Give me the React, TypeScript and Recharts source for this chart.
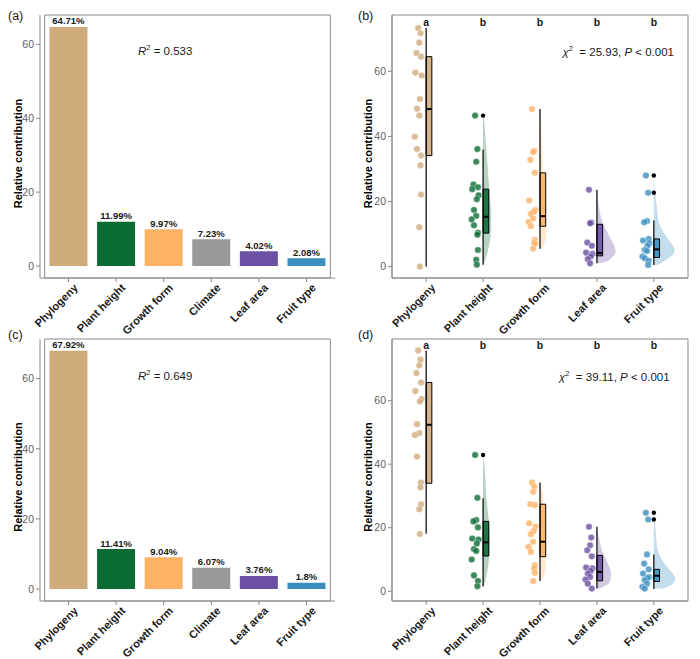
import React from "react";
import {
  Area,
  Bar,
  BarChart,
  Cell,
  ComposedChart,
  LabelList,
  Line,
  ReferenceArea,
  Scatter,
  XAxis,
  YAxis,
} from "recharts";

// ---- bar panels (a) and (c)
const BAR_CATEGORIES = ["Phylogeny", "Plant height", "Growth form", "Climate", "Leaf area", "Fruit type"];
const CONTRIB_A = [64.71, 11.99, 9.97, 7.23, 4.02, 2.08];
const CONTRIB_C = [67.92, 11.41, 9.04, 6.07, 3.76, 1.8];
const BAR_COLORS = ["#CFAB7B", "#0B6B35", "#FDB265", "#999999", "#6A51A3", "#3A8FC0"];
const R2_A = "0.533";
const R2_C = "0.649";

// ---- raincloud panels (b) and (d)
const RAIN_CATEGORIES = ["Phylogeny", "Plant height", "Growth form", "Leaf area", "Fruit type"];
const RAIN_COLORS = ["#CFAB7B", "#0B6B35", "#FDB265", "#6A51A3", "#3A8FC0"];
const SIG_LETTERS = ["a", "b", "b", "b", "b"];
const CHI_B = "25.93";
const CHI_D = "39.11";
const P_TEXT = "0.001";

const PHYLOGENY_B = [73.3, 71.7, 68.8, 65.6, 64.5, 59.6, 58.7, 51.5, 48.5, 46.4, 39.9, 36.1, 34.1, 31.1, 22.1, 12.1, 0.0];
const PLANT_HEIGHT_B = [46.4, 36.1, 32.2, 25.2, 24.4, 23.8, 21.9, 20.7, 17.4, 15.6, 14.5, 12.7, 10.4, 9.8, 5.1, 2.1, 0.6];
const GROWTH_FORM_B = [48.4, 35.6, 35.2, 32.8, 28.8, 20.3, 17.4, 16.8, 16.2, 14.8, 13.7, 12.5, 8.2, 7.4, 7.0, 5.5];
const LEAF_AREA_B = [23.6, 13.5, 13.3, 7.4, 6.4, 4.3, 3.9, 3.1, 2.3, 1.0];
const FRUIT_TYPE_B = [28.0, 22.7, 14.0, 13.6, 8.5, 8.0, 7.2, 6.4, 5.1, 4.8, 3.1, 2.6, 1.8, 0.5];

// [lower whisker, q1, median, q3, upper whisker]
const BOX_B = [
  [0.0, 34.1, 48.4, 64.5, 73.3],
  [0.6, 10.3, 15.3, 23.8, 36.0],
  [5.5, 12.4, 15.5, 28.8, 48.4],
  [1.0, 3.3, 4.2, 13.0, 23.6],
  [0.5, 2.8, 5.3, 8.5, 14.2],
];
const OUTLIERS_B = [[], [46.4], [], [], [28.0, 22.7]];
const VIOLIN_Y_B = [
  [73.3, 60, 45, 30, 15, 0],
  [46.4, 36, 24.6, 15.4, 10.2, 5.1, 0.6],
  [48.4, 40, 30, 20, 15, 10, 5.5],
  [23.6, 18.4, 13.3, 9.2, 6.1, 4.6, 3.1, 1.5, 1.0],
  [28.0, 22.7, 18.4, 14.0, 9.2, 6.6, 5.1, 3.6, 2.0, 0.5],
];
const VIOLIN_W_B = [
  [0.004, 0.012, 0.016, 0.016, 0.012, 0.004],
  [0.012, 0.058, 0.105, 0.14, 0.135, 0.088, 0.012],
  [0.01, 0.03, 0.05, 0.08, 0.1, 0.11, 0.04],
  [0.0, 0.035, 0.105, 0.223, 0.31, 0.328, 0.28, 0.163, 0.018],
  [0.0, 0.023, 0.053, 0.082, 0.223, 0.328, 0.368, 0.328, 0.21, 0.065],
];
const LETTER_Y_B = 75.2;

const PHYLOGENY_D = [75.8, 72.9, 71.1, 68.7, 65.7, 63.0, 60.5, 59.7, 52.6, 49.8, 49.2, 42.4, 34.2, 32.7, 27.4, 25.8, 18.0];
const PLANT_HEIGHT_D = [42.9, 29.4, 22.4, 22.0, 20.1, 16.6, 16.3, 15.0, 13.3, 12.7, 10.0, 5.0, 3.2, 1.6];
const GROWTH_FORM_D = [34.2, 32.9, 31.3, 27.4, 27.1, 21.4, 20.3, 19.0, 18.0, 15.6, 14.0, 12.4, 8.2, 7.2, 5.8, 3.2];
const LEAF_AREA_D = [20.3, 16.9, 14.5, 12.9, 11.0, 7.5, 7.2, 6.4, 5.6, 4.5, 3.7, 2.4, 0.85];
const FRUIT_TYPE_D = [24.7, 22.6, 11.6, 8.7, 6.9, 5.6, 4.5, 4.2, 3.5, 2.4, 1.4, 0.85];

const BOX_D = [
  [18.1, 34.0, 52.4, 65.7, 75.8],
  [1.5, 11.1, 15.4, 22.0, 29.3],
  [3.2, 10.9, 15.6, 27.4, 34.2],
  [0.85, 3.3, 6.1, 11.3, 20.3],
  [0.7, 3.1, 4.9, 6.9, 11.6],
];
const OUTLIERS_D = [[], [42.9], [], [], [24.7, 22.6]];
const VIOLIN_Y_D = [
  [75.8, 65, 50, 35, 18.0],
  [42.9, 38.2, 29.6, 23.4, 17.1, 10.8, 5.6, 1.5],
  [34.2, 28, 22, 16, 10, 6, 3.2],
  [20.3, 17.1, 12.9, 8.7, 5.6, 2.9, 0.85],
  [24.7, 21.4, 17.1, 12.9, 8.7, 5.6, 4.0, 2.4, 0.85],
];
const VIOLIN_W_D = [
  [0.004, 0.014, 0.016, 0.014, 0.004],
  [0.0, 0.03, 0.058, 0.093, 0.118, 0.105, 0.07, 0.012],
  [0.01, 0.058, 0.058, 0.088, 0.105, 0.088, 0.018],
  [0.0, 0.035, 0.088, 0.193, 0.25, 0.223, 0.047],
  [0.0, 0.023, 0.04, 0.07, 0.188, 0.333, 0.38, 0.333, 0.158],
];
const LETTER_Y_D = 77.4;

// ---- styling
const FONT = '"Liberation Sans", Arial, Helvetica, sans-serif';
const BORDER = "#8a8a8a";
const BOX_W = 0.1;
const JITTER = [-0.14, -0.1, -0.12, -0.17, -0.09, -0.19, -0.08, -0.11, -0.16, -0.12, -0.2, -0.16, -0.09, -0.1, -0.09, -0.12, -0.11];

const rangeKey = (d: any) => [d.lo, d.hi];

function buildRain(groups: number[][], boxes: number[][], outliers: number[][], vy: number[][], vw: number[][], letterY: number) {
  return RAIN_CATEGORIES.map((name, g) => {
    const p = g + 1;
    const b = boxes[g];
    return {
      name,
      color: RAIN_COLORS[g],
      violin: vy[g].map((y, k) => ({ y, lo: p, hi: p + vw[g][k] })),
      whisker: [{ x: p, y: b[0] }, { x: p, y: b[4] }],
      box: [
        { y: b[1], lo: p, hi: p },
        { y: b[1], lo: p, hi: p + BOX_W },
        { y: b[3], lo: p, hi: p + BOX_W },
        { y: b[3], lo: p, hi: p },
      ],
      median: [{ x: p, y: b[2] }, { x: p + BOX_W, y: b[2] }],
      points: groups[g].map((v, k) => ({ x: p + JITTER[k % JITTER.length], y: v })),
      outliers: outliers[g].map((v) => ({ x: p, y: v })),
      letter: [{ x: p, y: letterY, letter: SIG_LETTERS[g] }],
    };
  });
}

const RAIN_B = buildRain(
  [PHYLOGENY_B, PLANT_HEIGHT_B, GROWTH_FORM_B, LEAF_AREA_B, FRUIT_TYPE_B],
  BOX_B, OUTLIERS_B, VIOLIN_Y_B, VIOLIN_W_B, LETTER_Y_B
);
const RAIN_D = buildRain(
  [PHYLOGENY_D, PLANT_HEIGHT_D, GROWTH_FORM_D, LEAF_AREA_D, FRUIT_TYPE_D],
  BOX_D, OUTLIERS_D, VIOLIN_Y_D, VIOLIN_W_D, LETTER_Y_D
);

const ROWS_A = BAR_CATEGORIES.map((name, i) => ({ name, value: CONTRIB_A[i] }));
const ROWS_C = BAR_CATEGORIES.map((name, i) => ({ name, value: CONTRIB_C[i] }));

function AngledTick(props: any) {
  const { x, y, payload, names } = props;
  const label = names ? names[payload.value - 1] : payload.value;
  const ax = x + 4.5;
  const ay = y + 1;
  return (
    <g transform={`translate(${ax},${ay}) rotate(-45)`}>
      <text x={0} y={0} dy="0.71em" textAnchor="end" fontSize={11} fontWeight={700} fill="#1a1a1a" fontFamily={FONT}>
        {label}
      </text>
    </g>
  );
}

function YTitle(props: any) {
  const vb = props.viewBox || {};
  const cx = 17.5;
  const cy = (vb.y ?? 0) + (vb.height ?? 0) / 2 + 7;
  return (
    <text
      x={cx}
      y={cy}
      transform={`rotate(-90 ${cx} ${cy})`}
      textAnchor="middle"
      dominantBaseline="central"
      fontSize={11}
      fontWeight={700}
      fill="#000"
      fontFamily={FONT}
    >
      Relative contribution
    </text>
  );
}

const yTick = { fontSize: 10.5, fill: "#606060", fontFamily: FONT };

function BarPanel({ rows, domain, height, plotBottom }: any) {
  return (
    <BarChart width={350} height={height} data={rows} margin={{ top: 15, right: 15, bottom: 0, left: 0 }}>
      <XAxis
        dataKey="name"
        interval={0}
        padding={{ left: 4.7, right: 4.7 }}
        height={height - plotBottom}
        tick={<AngledTick />}
        tickSize={4}
        tickMargin={0}
        axisLine={{ stroke: BORDER }}
        tickLine={{ stroke: BORDER }}
      />
      <YAxis
        type="number"
        domain={domain}
        allowDataOverflow
        ticks={[0, 20, 40, 60]}
        width={40}
        tickSize={4}
        tickMargin={2}
        tick={yTick}
        axisLine={{ stroke: BORDER }}
        tickLine={{ stroke: BORDER }}
        label={<YTitle />}
      />
      <ReferenceArea y1={domain[0]} y2={domain[1]} fill="none" stroke={BORDER} strokeWidth={1} ifOverflow="visible" />
      <Bar dataKey="value" isAnimationActive={false}>
        {rows.map((r: any, i: number) => (
          <Cell key={r.name} fill={BAR_COLORS[i]} />
        ))}
        <LabelList
          dataKey="value"
          position="top"
          offset={2.5}
          formatter={(v: any) => `${v}%`}
          fontSize={9.5}
          fontWeight={700}
          fill="#1a1a1a"
          fontFamily={FONT}
        />
      </Bar>
    </BarChart>
  );
}

function RainPanel({ groups, domain, height, plotBottom }: any) {
  const items: React.ReactNode[] = [];
  groups.forEach((gr: any, g: number) => {
    items.push(
      <Area key={`v${g}`} data={gr.violin} dataKey={rangeKey} type="monotone" fill={gr.color} fillOpacity={0.3} stroke="none" isAnimationActive={false} activeDot={false} />
    );
  });
  groups.forEach((gr: any, g: number) => {
    items.push(
      <Line key={`w${g}`} data={gr.whisker} dataKey="x" type="linear" stroke="#000" strokeWidth={1.2} dot={false} activeDot={false} isAnimationActive={false} />
    );
  });
  groups.forEach((gr: any, g: number) => {
    items.push(
      <Area key={`b${g}`} data={gr.box} dataKey={rangeKey} type="linear" fill={gr.color} fillOpacity={0.9} stroke="#000" strokeWidth={1} isAnimationActive={false} activeDot={false} />
    );
    items.push(
      <Line key={`m${g}`} data={gr.median} dataKey="x" type="linear" stroke="#000" strokeWidth={2} dot={false} activeDot={false} isAnimationActive={false} />
    );
  });
  groups.forEach((gr: any, g: number) => {
    items.push(
      <Scatter
        key={`p${g}`}
        data={gr.points}
        dataKey="x"
        isAnimationActive={false}
        shape={(s: any) => <circle cx={s.cx} cy={s.cy} r={3.3} fill={gr.color} fillOpacity={0.8} stroke="#fff" strokeWidth={0.4} />}
      />
    );
    if (gr.outliers.length) {
      items.push(
        <Scatter
          key={`o${g}`}
          data={gr.outliers}
          dataKey="x"
          isAnimationActive={false}
          shape={(s: any) => <circle cx={s.cx} cy={s.cy} r={2.2} fill="#000" />}
        />
      );
    }
    items.push(
      <Scatter
        key={`l${g}`}
        data={gr.letter}
        dataKey="x"
        isAnimationActive={false}
        shape={(s: any) => (
          <text x={s.cx} y={s.cy} dy="0.36em" textAnchor="middle" fontSize={10.5} fontWeight={700} fill="#1a1a1a" fontFamily={FONT}>
            {s.payload.letter}
          </text>
        )}
      />
    );
  });

  return (
    <ComposedChart layout="vertical" width={350} height={height} margin={{ top: 15, right: 12, bottom: 0, left: 0 }}>
      <XAxis
        type="number"
        domain={[0.4, 5.6]}
        allowDataOverflow
        ticks={[1, 2, 3, 4, 5]}
        interval={0}
        height={height - plotBottom}
        tick={<AngledTick names={RAIN_CATEGORIES} />}
        tickSize={4}
        tickMargin={0}
        axisLine={{ stroke: BORDER }}
        tickLine={{ stroke: BORDER }}
      />
      <YAxis
        type="number"
        dataKey="y"
        reversed
        domain={domain}
        allowDataOverflow
        ticks={[0, 20, 40, 60]}
        width={42}
        tickSize={4}
        tickMargin={2}
        tick={yTick}
        axisLine={{ stroke: BORDER }}
        tickLine={{ stroke: BORDER }}
        label={<YTitle />}
      />
      <ReferenceArea x1={0.4} x2={5.6} y1={domain[0]} y2={domain[1]} fill="none" stroke={BORDER} strokeWidth={1} ifOverflow="visible" />
      {items}
    </ComposedChart>
  );
}

function R2Text({ x, y, value }: any) {
  return (
    <text x={x} y={y} fontSize={11.5} fill="#1a1a1a">
      <tspan fontStyle="italic">R</tspan>
      <tspan dy={-4.5} fontSize={7.5}>2</tspan>
      <tspan dy={4.5}> = {value}</tspan>
    </text>
  );
}

function ChiText({ x, y, value }: any) {
  return (
    <text x={x} y={y} fontSize={11.5} fill="#1a1a1a" xmlSpace="preserve">
      <tspan fontStyle="italic">χ</tspan>
      <tspan dy={-4.5} fontSize={7.5}>2</tspan>
      <tspan dy={4.5}>{"  = " + value + ", "}</tspan>
      <tspan fontStyle="italic">P</tspan>
      <tspan>{" < " + P_TEXT}</tspan>
    </text>
  );
}

export default function App() {
  return (
    <div style={{ position: "absolute", left: 0, top: 0, width: 700, height: 659, background: "#fff", fontFamily: FONT }}>
      <div style={{ position: "absolute", left: 0, top: 0 }}>
        <BarPanel rows={ROWS_A} domain={[-3.24, 67.95]} height={345} plotBottom={278} />
      </div>
      <div style={{ position: "absolute", left: 350, top: 0 }}>
        <RainPanel groups={RAIN_B} domain={[-3.5, 77.3]} height={345} plotBottom={278} />
      </div>
      <div style={{ position: "absolute", left: 0, top: 324 }}>
        <BarPanel rows={ROWS_C} domain={[-3.4, 71.3]} height={335} plotBottom={277} />
      </div>
      <div style={{ position: "absolute", left: 350, top: 324 }}>
        <RainPanel groups={RAIN_D} domain={[-3.06, 79.4]} height={335} plotBottom={277} />
      </div>
      <svg width={700} height={659} style={{ position: "absolute", left: 0, top: 0, pointerEvents: "none" }} fontFamily={FONT}>
        <text x={8} y={19.5} fontSize={12.5} fill="#1a1a1a">(a)</text>
        <text x={358} y={19.5} fontSize={12.5} fill="#1a1a1a">(b)</text>
        <text x={8} y={338.5} fontSize={12.5} fill="#1a1a1a">(c)</text>
        <text x={358} y={338.5} fontSize={12.5} fill="#1a1a1a">(d)</text>
        <R2Text x={138} y={54.5} value={R2_A} />
        <R2Text x={138} y={379.5} value={R2_C} />
        <ChiText x={562.5} y={55.5} value={CHI_B} />
        <ChiText x={559} y={380.5} value={CHI_D} />
      </svg>
    </div>
  );
}
